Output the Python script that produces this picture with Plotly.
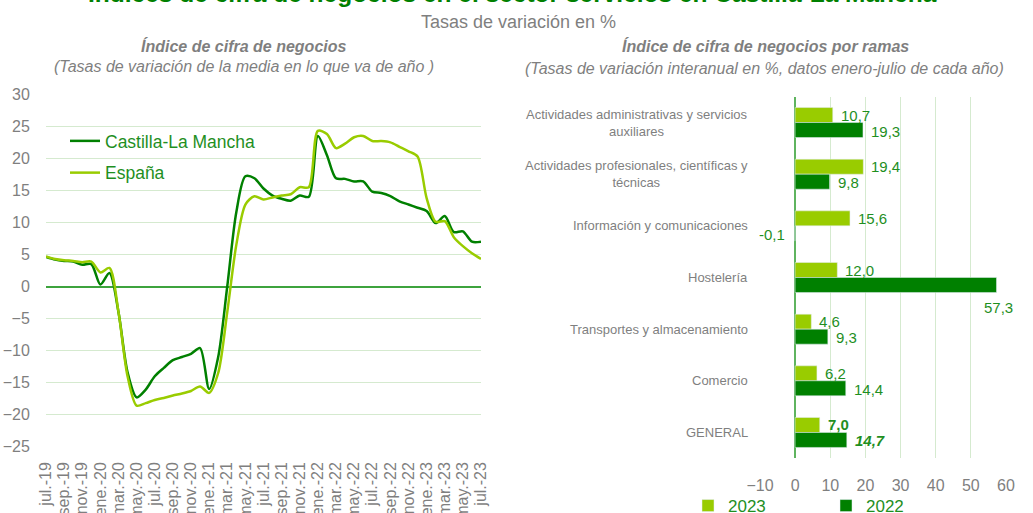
import plotly.graph_objects as go

# ---------------- data ----------------
months = ["jul.-19","ago.-19","sep.-19","oct.-19","nov.-19","dic.-19",
          "ene.-20","feb.-20","mar.-20","abr.-20","may.-20","jun.-20","jul.-20","ago.-20","sep.-20","oct.-20","nov.-20","dic.-20",
          "ene.-21","feb.-21","mar.-21","abr.-21","may.-21","jun.-21","jul.-21","ago.-21","sep.-21","oct.-21","nov.-21","dic.-21",
          "ene.-22","feb.-22","mar.-22","abr.-22","may.-22","jun.-22","jul.-22","ago.-22","sep.-22","oct.-22","nov.-22","dic.-22",
          "ene.-23","feb.-23","mar.-23","abr.-23","may.-23","jun.-23","jul.-23"]

clm = [4.6, 4.2, 4.0, 3.9, 3.4, 3.5,
       0.3, 2.1, -4.0, -13.4, -17.3, -16.1, -14.0, -12.7, -11.5, -11.0, -10.5, -9.6,
       -16.0, -11.0, 0.0, 11.6, 17.2, 16.9, 15.3, 14.2, 13.7, 13.4, 14.2, 14.0,
       23.5, 20.5, 16.9, 16.8, 16.4, 16.4, 14.8, 14.6, 14.1, 13.3, 12.8, 12.3,
       11.8, 9.9, 11.0, 8.5, 8.6, 7.0, 7.0]

espana = [4.7, 4.3, 4.1, 4.0, 3.8, 3.9,
          2.2, 2.9, -4.0, -14.0, -18.6, -18.2, -17.7, -17.4, -17.0, -16.7, -16.3, -15.6,
          -16.6, -13.5, -4.0, 6.5, 12.8, 14.1, 13.6, 13.9, 14.2, 14.4, 15.5, 15.5,
          24.3, 23.8, 21.6, 22.3, 23.3, 23.5, 22.7, 22.7, 22.5, 21.8, 21.1, 20.3,
          13.8, 10.1, 10.2, 7.7, 6.3, 5.2, 4.3]

ramas = ["Actividades administrativas y servicios<br>auxiliares",
         "Actividades profesionales, científicas y<br>técnicas",
         "Información y comunicaciones",
         "Hostelería",
         "Transportes y almacenamiento",
         "Comercio",
         "GENERAL"]
v2023 = [10.7, 19.4, 15.6, 12.0, 4.6, 6.2, 7.0]
v2022 = [19.3, 9.8, -0.1, 57.3, 9.3, 14.4, 14.7]

DARK = "#008000"
LIGHT = "#99cc00"
LABEL_GREEN = "#1f8f1f"
GRAY = "#7f7f7f"
GRID = "#d5eacf"
FONT = "Liberation Sans, Arial, sans-serif"

W, H = 1033, 513

fig = go.Figure()

# ---------------- left: lines ----------------
fig.add_trace(go.Scatter(x=months, y=clm, name="Castilla-La Mancha", mode="lines",
                         line=dict(color=DARK, width=2.5, shape="spline", smoothing=0.8),
                         xaxis="x", yaxis="y", legend="legend", legendgroup="a"))
fig.add_trace(go.Scatter(x=months, y=espana, name="España", mode="lines",
                         line=dict(color=LIGHT, width=2.5, shape="spline", smoothing=0.8),
                         xaxis="x", yaxis="y", legend="legend", legendgroup="b"))

# ---------------- right: bars ----------------
fig.add_trace(go.Bar(y=ramas, x=v2023, name="2023", orientation="h", marker_color=LIGHT,
                     xaxis="x2", yaxis="y2", legend="legend2"))
fig.add_trace(go.Bar(y=ramas, x=v2022, name="2022", orientation="h", marker_color=DARK,
                     xaxis="x2", yaxis="y2", legend="legend2"))

def fmt(v):
    return f"{v:.1f}".replace(".", ",")

ann = []
for i, cat in enumerate(ramas):
    general = cat == "GENERAL"
    # 2023 labels
    t = fmt(v2023[i])
    if general:
        t = "<b>" + t + "</b>"
    ann.append(dict(x=v2023[i], y=cat, xref="x2", yref="y2", text=t, showarrow=False,
                    xanchor="left", xshift=6, yshift=7.5,
                    font=dict(family=FONT, size=15, color=LABEL_GREEN)))
    # 2022 labels
    v = v2022[i]
    t = fmt(v)
    if general:
        t = "<b><i>" + t + "</i></b>"
    if v > 50:
        ann.append(dict(x=v, y=cat, xref="x2", yref="y2", text=t, showarrow=False,
                        xanchor="center", xshift=2, yshift=-30,
                        font=dict(family=FONT, size=15, color=LABEL_GREEN)))
    elif v < 0:
        ann.append(dict(x=v, y=cat, xref="x2", yref="y2", text=t, showarrow=False,
                        xanchor="right", xshift=-8, yshift=-9,
                        font=dict(family=FONT, size=15, color=LABEL_GREEN)))
    else:
        ann.append(dict(x=v, y=cat, xref="x2", yref="y2", text=t, showarrow=False,
                        xanchor="left", xshift=6, yshift=-8.5,
                        font=dict(family=FONT, size=15, color=LABEL_GREEN)))
    # category label (centered multi-line)
    ann.append(dict(x=750 / W, y=cat, xref="paper", yref="y2", text=cat, showarrow=False,
                    xanchor="right", align="center",
                    font=dict(family=FONT, size=13, color=GRAY)))

# titles
ann.append(dict(x=0.496, y=1 + 7 / H, xref="paper", yref="paper", showarrow=False,
                text="<b>Índices de cifra de negocios en el sector servicios en Castilla-La Mancha</b>",
                xanchor="center", yanchor="middle",
                font=dict(family=FONT, size=24.5, color=DARK)))
ann.append(dict(x=0.502, y=1 - 22 / H, xref="paper", yref="paper", showarrow=False,
                text="Tasas de variación en %", xanchor="center", yanchor="middle",
                font=dict(family=FONT, size=18, color=GRAY)))
ann.append(dict(x=243 / W, y=1 - 46 / H, xref="paper", yref="paper", showarrow=False,
                text="<b><i>Índice de cifra de negocios</i></b>", xanchor="center", yanchor="middle",
                font=dict(family=FONT, size=16, color=GRAY)))
ann.append(dict(x=244 / W, y=1 - 67 / H, xref="paper", yref="paper", showarrow=False,
                text="<i>(Tasas de variación de la media en lo que va de año )</i>",
                xanchor="center", yanchor="middle",
                font=dict(family=FONT, size=16, color=GRAY)))
ann.append(dict(x=765 / W, y=1 - 46 / H, xref="paper", yref="paper", showarrow=False,
                text="<b><i>Índice de cifra de negocios por ramas</i></b>", xanchor="center", yanchor="middle",
                font=dict(family=FONT, size=16, color=GRAY)))
ann.append(dict(x=764 / W, y=1 - 68 / H, xref="paper", yref="paper", showarrow=False,
                text="<i>(Tasas de variación interanual en %, datos enero-julio de cada año)</i>",
                xanchor="center", yanchor="middle",
                font=dict(family=FONT, size=16, color=GRAY)))

fig.update_layout(
    width=W, height=H,
    margin=dict(l=0, r=0, t=0, b=0, autoexpand=False),
    paper_bgcolor="white", plot_bgcolor="white",
    font=dict(family=FONT, color=GRAY),
    separators=",.",
    barmode="group", bargap=0.42, bargroupgap=0,
    annotations=ann,
    xaxis=dict(domain=[46 / W, 481 / W], type="category", range=[0, 48], automargin=False,
               tickmode="array", tickvals=months[::2], ticktext=months[::2],
               tickangle=-90, tickfont=dict(family=FONT, size=16, color=GRAY),
               showgrid=False, zeroline=False, showline=False,
               ticks="outside", ticklen=8, tickcolor="rgba(0,0,0,0)"),
    yaxis=dict(domain=[1 - 446.7 / H, 1 - 94.3 / H], range=[-25, 30], dtick=5, automargin=False,
               tickfont=dict(family=FONT, size=16, color=GRAY),
               showgrid=True, gridcolor=GRID, gridwidth=1,
               zeroline=True, zerolinecolor="#3da33d", zerolinewidth=1.5,
               showline=False, ticks="outside", ticklen=12, tickcolor="rgba(0,0,0,0)"),
    xaxis2=dict(domain=[760 / W, 1006 / W], range=[-10, 60], dtick=10, anchor="y2", automargin=False,
                tickfont=dict(family=FONT, size=16, color=GRAY),
                showgrid=True, gridcolor=GRID, gridwidth=1,
                zeroline=True, zerolinecolor="#5fb45f", zerolinewidth=1.5,
                showline=False, ticks="outside", ticklen=12, tickcolor="rgba(0,0,0,0)"),
    yaxis2=dict(domain=[1 - 458.3 / H, 1 - 96.7 / H], anchor="x2", autorange="reversed",
                automargin=False,
                showticklabels=False, showgrid=False, zeroline=False, showline=False),
    legend=dict(x=65 / W, y=1 - 123 / H, xanchor="left", yanchor="top",
                bgcolor="rgba(0,0,0,0)", tracegroupgap=6,
                font=dict(family=FONT, size=17.5, color=LABEL_GREEN)),
    legend2=dict(x=688 / W, y=1 - 488 / H, xanchor="left", yanchor="top", orientation="h",
                 bgcolor="rgba(0,0,0,0)", entrywidth=93, entrywidthmode="pixels",
                 font=dict(family=FONT, size=17, color=LABEL_GREEN)),
    showlegend=True,
)

fig.write_html("out.html", config={"displayModeBar": False},
               post_script="document.body.style.margin='0';")
